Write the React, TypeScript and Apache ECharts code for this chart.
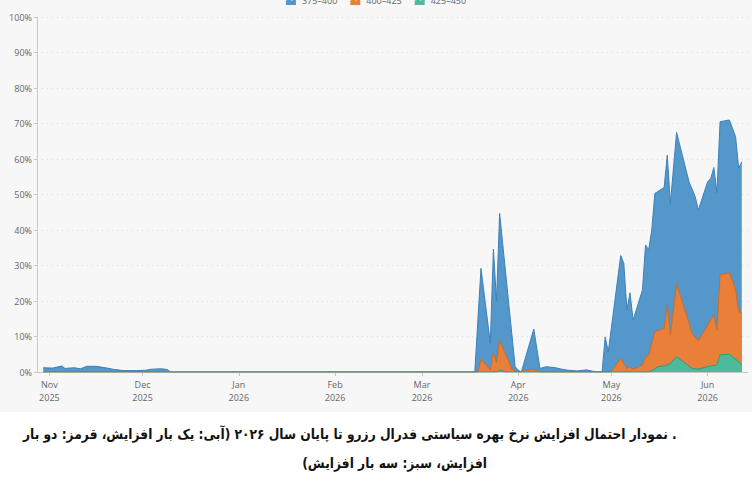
import React, { useEffect, useLayoutEffect, useRef } from 'react';
import * as echarts from 'echarts';

// month ticks on the x axis
const monthTicks = ['2025-11-01', '2025-12-01', '2026-01-01', '2026-02-01', '2026-03-01', '2026-04-01', '2026-05-01', '2026-06-01'];
const monthLabels = ['Nov\n2025', 'Dec\n2025', 'Jan\n2026', 'Feb\n2026', 'Mar\n2026', 'Apr\n2026', 'May\n2026', 'Jun\n2026'];

const seriesNames = ['375–400', '400–425', '425–450'];

// 375-400 (blue)
const blueDates = [
  '2025-10-30', '2025-11-02', '2025-11-05', '2025-11-06', '2025-11-09', '2025-11-11', '2025-11-13', '2025-11-16',
  '2025-11-19', '2025-11-22', '2025-11-25', '2025-11-29', '2025-12-02', '2025-12-04', '2025-12-07', '2025-12-09',
  '2025-12-10', '2026-03-18', '2026-03-20', '2026-03-23', '2026-03-24', '2026-03-25', '2026-03-26', '2026-03-31',
  '2026-04-01', '2026-04-02', '2026-04-06', '2026-04-08', '2026-04-10', '2026-04-13', '2026-04-15', '2026-04-17',
  '2026-04-20', '2026-04-23', '2026-04-25', '2026-04-28', '2026-04-29', '2026-04-30', '2026-05-04', '2026-05-05',
  '2026-05-06', '2026-05-07', '2026-05-08', '2026-05-11', '2026-05-12', '2026-05-13', '2026-05-14', '2026-05-15',
  '2026-05-18', '2026-05-19', '2026-05-20', '2026-05-22', '2026-05-26', '2026-05-28', '2026-05-29', '2026-06-01',
  '2026-06-02', '2026-06-03', '2026-06-04', '2026-06-05', '2026-06-08', '2026-06-10', '2026-06-11', '2026-06-12',
];
const blueValues = [
  1.2, 1.1, 1.7, 1.0, 1.2, 0.9, 1.6, 1.6,
  1.2, 0.7, 0.4, 0.4, 0.5, 0.8, 0.9, 0.7,
  0, 0, 29.2, 8.1, 34.6, 20, 44.7, 1.5,
  0.5, 0, 12.1, 1, 1.5, 1.2, 0.8, 0.5,
  0.3, 0.6, 0.2, 0, 9.9, 5.7, 32.8, 30.6,
  17.5, 22.3, 14.6, 23.1, 35.8, 34.4, 40, 50.3,
  52, 61.1, 47.5, 67.5, 53.6, 49.4, 45.6, 53.6,
  54.5, 57.6, 50.5, 70.5, 71, 66.3, 57.4, 59.2,
];

// 400-425 (orange)
const orangeDates = [
  '2025-10-30', '2026-03-19', '2026-03-20', '2026-03-23', '2026-03-24', '2026-03-25', '2026-03-26', '2026-03-30',
  '2026-04-01', '2026-04-04', '2026-04-06', '2026-04-08', '2026-04-30', '2026-05-01', '2026-05-04', '2026-05-06',
  '2026-05-07', '2026-05-08', '2026-05-11', '2026-05-12', '2026-05-13', '2026-05-15', '2026-05-18', '2026-05-19',
  '2026-05-20', '2026-05-22', '2026-05-24', '2026-05-27', '2026-05-29', '2026-06-01', '2026-06-03', '2026-06-04',
  '2026-06-05', '2026-06-08', '2026-06-10', '2026-06-11', '2026-06-12',
];
const orangeValues = [
  0, 0, 3.6, 0.6, 5.4, 2.6, 9, 0.7,
  0, 0.5, 0.7, 0, 0, 0.2, 3.8, 1,
  1.5, 0.7, 2, 4.3, 4.8, 11.4, 12.3, 18.9,
  10.4, 24.8, 19.3, 10.9, 8.8, 13.2, 16.1, 11.8,
  27.3, 28, 23.3, 17, 16.5,
];

// 425-450 (green)
const greenDates = [
  '2025-10-30', '2026-03-25', '2026-03-26', '2026-03-28', '2026-05-13', '2026-05-14', '2026-05-16', '2026-05-18',
  '2026-05-20', '2026-05-22', '2026-05-25', '2026-05-27', '2026-05-29', '2026-06-01', '2026-06-04', '2026-06-05',
  '2026-06-08', '2026-06-11', '2026-06-12',
];
const greenValues = [
  0, 0, 0.5, 0, 0, 0.3, 1.5, 1.7,
  2.4, 4.3, 2.3, 1, 0.8, 1.5, 2, 4.8,
  5, 2.9, 2,
];

const caption1 = '. نمودار احتمال افزایش نرخ بهره سیاستی فدرال رزرو تا پایان سال ۲۰۲۶ (آبی: یک بار افزایش، قرمز: دو بار';
const caption2 = 'افزایش، سبز: سه بار افزایش)';

const ts = (s: string) => {
  const [y, m, d] = s.split('-').map(Number);
  return new Date(y, m - 1, d).getTime();
};

const areaIcon = 'path://M0,10 L0,6 L3,3 L6,6 L10,0 L10,10 Z';

const ProbabilityChart: React.FC = () => {
  const chartRef = useRef<HTMLDivElement>(null);

  useEffect(() => {
    const chart = echarts.init(chartRef.current!, null, { renderer: 'svg' });
    const tickTimes = monthTicks.map(ts);
    const font = "'Open Sans', sans-serif";

    const makeSeries = (name: string, dates: string[], values: number[], fill: string, stroke: string) => ({
      name,
      type: 'line',
      data: dates.map((d, i) => [ts(d), values[i]]),
      showSymbol: false,
      smooth: false,
      lineStyle: { color: stroke, width: 1 },
      itemStyle: { color: fill },
      areaStyle: { color: fill, opacity: 1 },
    });

    chart.setOption({
      animation: false,
      backgroundColor: '#f7f7f7',
      legend: {
        top: -10,
        left: 'center',
        icon: areaIcon,
        itemWidth: 12,
        itemHeight: 10,
        itemGap: 13,
        textStyle: { fontFamily: font, fontSize: 9, color: '#666' },
      },
      grid: { left: 37, right: 4, top: 17, bottom: 40 },
      xAxis: {
        type: 'value',
        min: ts('2025-10-28'),
        max: ts('2026-06-14'),
        axisLine: { lineStyle: { color: '#c8c8c8' } },
        axisTick: { customValues: tickTimes, length: 4, lineStyle: { color: '#c8c8c8' } },
        splitLine: { show: false },
        axisLabel: {
          customValues: tickTimes,
          fontFamily: font,
          fontSize: 9,
          color: '#666',
          lineHeight: 13,
          margin: 6,
          formatter: (v: number) => {
            const i = tickTimes.findIndex((t) => Math.abs(t - v) < 86400000);
            return i >= 0 ? monthLabels[i] : '';
          },
        },
      },
      yAxis: {
        type: 'value',
        min: 0,
        max: 100,
        interval: 10,
        axisLine: { show: true, lineStyle: { color: '#c8c8c8' } },
        axisTick: { show: true, length: 3, lineStyle: { color: '#c8c8c8' } },
        axisLabel: { formatter: '{value}%', fontFamily: font, fontSize: 9, color: '#666', margin: 5 },
        splitLine: { lineStyle: { color: '#dcdcdc', type: [1, 4] } },
      },
      series: [
        makeSeries(seriesNames[0], blueDates, blueValues, '#5497ca', '#3d80b8'),
        makeSeries(seriesNames[1], orangeDates, orangeValues, '#e8803a', '#cf6a28'),
        makeSeries(seriesNames[2], greenDates, greenValues, '#4dbb9b', '#2f9a7c'),
      ],
    });

    return () => {
      chart.dispose();
    };
  }, []);

  return <div ref={chartRef} style={{ position: 'absolute', left: 0, top: 0, width: 752, height: 412 }} />;
};

export default function App() {
  const line1Ref = useRef<HTMLDivElement>(null);
  const line2Ref = useRef<HTMLDivElement>(null);

  useEffect(() => {
    document.body.style.margin = '0';
  }, []);

  // squeeze the caption so the first line spans the same width as in the picture
  useLayoutEffect(() => {
    const l1 = line1Ref.current!;
    const l2 = line2Ref.current!;
    const w = l1.scrollWidth;
    const s = w > 0 ? 654 / w : 1;
    l1.style.transform = `scaleX(${s})`;
    l2.style.transform = `scaleX(${s})`;
  }, []);

  const captionStyle: React.CSSProperties = {
    position: 'absolute',
    direction: 'rtl',
    whiteSpace: 'nowrap',
    fontFamily: "'DejaVu Sans', sans-serif",
    fontWeight: 'bold',
    fontSize: 14,
    color: '#111',
    transformOrigin: 'right center',
  };

  return (
    <div style={{ position: 'relative', width: 755, height: 493, background: '#fff', overflow: 'hidden' }}>
      <ProbabilityChart />
      <div ref={line1Ref} style={{ ...captionStyle, top: 426, right: 78 }}>{caption1}</div>
      <div ref={line2Ref} style={{ ...captionStyle, top: 455, right: 268 }}>{caption2}</div>
    </div>
  );
}
